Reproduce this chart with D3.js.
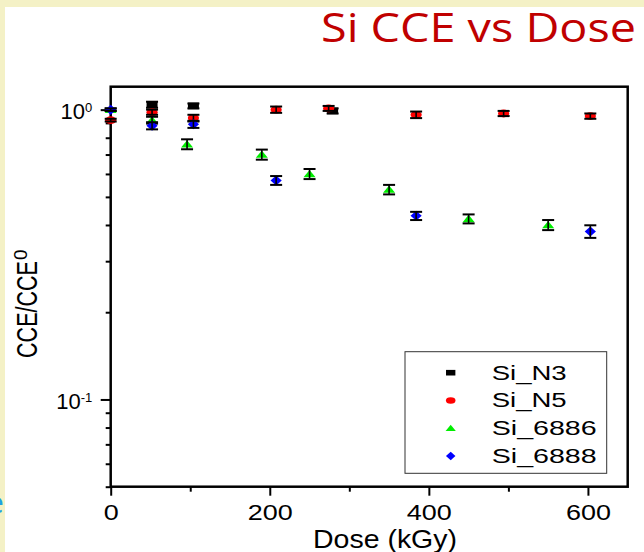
<!DOCTYPE html>
<html>
<head>
<meta charset="utf-8">
<script src="https://cdn.jsdelivr.net/npm/d3@7"></script>
<style>
  body { margin: 0; background: #fff; }
  svg { display: block; }
  text { font-family: "Liberation Sans", Arial, sans-serif; }
</style>
</head>
<body>
<script>
// Data: dose (kGy), CCE/CCE0, error
var doseN3 = [52, 104, 279];
var cceN3  = [1.04, 1.03, 0.99];
var errN3  = [0.025, 0.02, 0.02];

var doseN5 = [0, 52, 104, 208, 274, 384, 494, 603];
var cceN5  = [0.92, 0.98, 0.935, 1.0, 1.01, 0.96, 0.97, 0.95];
var errN5  = [0.01, 0.02, 0.025, 0.025, 0.02, 0.025, 0.02, 0.02];

var dose6886 = [0, 52, 96, 190, 250, 350, 450, 550];
var cce6886  = [1.0, 0.92, 0.76, 0.70, 0.60, 0.53, 0.42, 0.40];
var err6886  = [0.01, 0.025, 0.03, 0.028, 0.024, 0.02, 0.015, 0.016];

var dose6888 = [0, 52, 104, 208, 384, 603];
var cce6888  = [1.0, 0.88, 0.89, 0.57, 0.43, 0.38];
var err6888  = [0.01, 0.025, 0.025, 0.02, 0.014, 0.019];

var seriesNames = ["Si_N3", "Si_N5", "Si_6886", "Si_6888"];
var xMajorTicks = [0, 200, 400, 600];
var xMinorTicks = [100, 300, 500];
var yMajorTicks = [0.1, 1];
var yMajorExp   = ["-1", "0"];
var yMinorTicks = [0.05, 0.06, 0.07, 0.08, 0.09, 0.2, 0.3, 0.4, 0.5, 0.6, 0.7, 0.8, 0.9];

var W = 644, H = 552;
var plot = {left: 110.7, top: 86.7, right: 627.7, bottom: 486.7};

var svg = d3.select("body").append("svg")
  .attr("width", W)
  .attr("height", H);

// slide background strips
svg.append("rect").attr("width", W).attr("height", H).attr("fill", "#f4f1c6");
svg.append("rect").attr("x", 5).attr("y", 7).attr("width", W - 5).attr("height", H - 7).attr("fill", "#fff");
svg.append("text")
  .attr("x", -13).attr("y", 513)
  .style("font-family", "'Open Sans', sans-serif")
  .style("font-size", "30px")
  .attr("fill", "#1ea2e2")
  .text("e");

// title
svg.append("text")
  .attr("x", 636).attr("y", 42)
  .attr("text-anchor", "end")
  .attr("textLength", 315)
  .attr("lengthAdjust", "spacingAndGlyphs")
  .style("font-family", "'Open Sans', sans-serif")
  .style("font-size", "40px")
  .attr("fill", "#c00000")
  .text("Si CCE vs Dose");

//Scales
var x = d3.scaleLinear().domain([0, 650]).range([plot.left, plot.right]);
var y = d3.scaleLog().domain([0.05, 1.2]).range([plot.bottom, plot.top]);

//Axes
var xMajor = svg.append("g")
  .attr("transform", "translate(0," + plot.bottom + ")")
  .call(d3.axisBottom(x).tickValues(xMajorTicks).tickSize(9).tickSizeOuter(0).tickFormat(d3.format("d")));
var xMinor = svg.append("g")
  .attr("transform", "translate(0," + plot.bottom + ")")
  .call(d3.axisBottom(x).tickValues(xMinorTicks).tickSize(5).tickSizeOuter(0).tickFormat(""));
var yMajor = svg.append("g")
  .attr("transform", "translate(" + plot.left + ",0)")
  .call(d3.axisLeft(y).tickValues(yMajorTicks).tickSize(10).tickSizeOuter(0).tickFormat(""));
var yMinor = svg.append("g")
  .attr("transform", "translate(" + plot.left + ",0)")
  .call(d3.axisLeft(y).tickValues(yMinorTicks).tickSize(5).tickSizeOuter(0).tickFormat(""));

[xMajor, xMinor, yMajor, yMinor].forEach(function(g) {
  g.select(".domain").remove();
  g.selectAll(".tick line").attr("stroke", "#000").attr("stroke-width", 2);
});

xMajor.selectAll(".tick text")
  .attr("y", 33.6)
  .attr("dy", null)
  .attr("fill", "#000")
  .style("font-size", "22px")
  .attr("textLength", function(d) { return String(d).length * 15; })
  .attr("lengthAdjust", "spacingAndGlyphs");

// log labels 10^n
var yLab = yMajor.selectAll(".tick").append("text")
  .attr("x", -18.5)
  .attr("y", 9)
  .attr("text-anchor", "end")
  .attr("fill", "#000")
  .style("font-size", "22px");
yLab.append("tspan").text("10");
yLab.append("tspan")
  .attr("dy", -7)
  .style("font-size", "13px")
  .text(function(d, i) { return yMajorExp[yMajorTicks.indexOf(d)]; });

// frame
svg.append("rect")
  .attr("x", plot.left).attr("y", plot.top)
  .attr("width", plot.right - plot.left)
  .attr("height", plot.bottom - plot.top)
  .attr("fill", "none")
  .attr("stroke", "#000")
  .attr("stroke-width", 2.5);

// axis titles
svg.append("text")
  .attr("x", 385).attr("y", 548)
  .attr("text-anchor", "middle")
  .attr("textLength", 144)
  .attr("lengthAdjust", "spacingAndGlyphs")
  .style("font-size", "25px")
  .text("Dose (kGy)");

var yTitle = svg.append("text")
  .attr("transform", "translate(37,358) rotate(-90)")
  .style("font-size", "30px");
yTitle.append("tspan")
  .attr("textLength", 97)
  .attr("lengthAdjust", "spacingAndGlyphs")
  .text("CCE/CCE");
yTitle.append("tspan")
  .attr("dx", 1).attr("dy", -10)
  .style("font-size", "19px")
  .text("0");

//Markers
function marker(g, kind, color, s) {
  if (kind == "square") {
    g.append("rect").attr("x", -5.5 * s).attr("y", -3.3 * s).attr("width", 11 * s).attr("height", 6.6 * s).attr("fill", color);
  } else if (kind == "circle") {
    g.append("ellipse").attr("rx", 5.6 * s).attr("ry", 3.9 * s).attr("fill", color);
  } else if (kind == "triangle") {
    g.append("path").attr("d", "M0," + (-4 * s) + "L" + (6 * s) + "," + (3.3 * s) + "L" + (-6 * s) + "," + (3.3 * s) + "Z").attr("fill", color);
  } else {
    g.append("path").attr("d", "M0," + (-5 * s) + "L" + (5.6 * s) + ",0L0," + (5 * s) + "L" + (-5.6 * s) + ",0Z").attr("fill", color);
  }
}

var series = [
  {name: seriesNames[0], dose: doseN3, cce: cceN3, err: errN3, kind: "square", color: "#000000"},
  {name: seriesNames[1], dose: doseN5, cce: cceN5, err: errN5, kind: "circle", color: "#ff0000"},
  {name: seriesNames[2], dose: dose6886, cce: cce6886, err: err6886, kind: "triangle", color: "#00ee00"},
  {name: seriesNames[3], dose: dose6888, cce: cce6888, err: err6888, kind: "diamond", color: "#0000ff"}
];

series.forEach(function(sr) {
  var pts = sr.dose.map(function(d, i) { return {dose: d, v: sr.cce[i], e: sr.err[i]}; });
  var grp = svg.append("g");
  var p = grp.selectAll("g.pt")
    .data(pts)
    .enter()
    .append("g")
      .attr("class", "pt")
      .attr("transform", function(d) { return "translate(" + x(d.dose) + "," + y(d.v) + ")"; });
  p.each(function() { marker(d3.select(this), sr.kind, sr.color, 1); });
  // error bars on top of the markers
  p.append("line")
    .attr("y1", function(d) { return y(d.v - d.e) - y(d.v); })
    .attr("y2", function(d) { return y(d.v + d.e) - y(d.v); })
    .attr("stroke", "#000").attr("stroke-width", 1.6);
  [-1, 1].forEach(function(sg) {
    p.append("line")
      .attr("x1", -6).attr("x2", 6)
      .attr("y1", function(d) { return y(d.v + sg * d.e) - y(d.v); })
      .attr("y2", function(d) { return y(d.v + sg * d.e) - y(d.v); })
      .attr("stroke", "#000").attr("stroke-width", 2);
  });
});

//Legend
var legend = svg.append("g");
legend.append("rect")
  .attr("x", 405).attr("y", 351.7)
  .attr("width", 201.7).attr("height", 121.6)
  .attr("fill", "#fff")
  .attr("stroke", "#333")
  .attr("stroke-width", 1);

var ly = d3.scalePoint().domain(seriesNames).range([372.7, 456]);
series.forEach(function(sr) {
  var g = legend.append("g").attr("transform", "translate(450.7," + ly(sr.name) + ")");
  marker(g, sr.kind, sr.color, 0.85);
  g.append("text")
    .attr("x", 41).attr("y", 7)
    .attr("textLength", sr.name.length * 15)
    .attr("lengthAdjust", "spacingAndGlyphs")
    .style("font-size", "20px")
    .text(sr.name);
});
</script>
</body>
</html>
